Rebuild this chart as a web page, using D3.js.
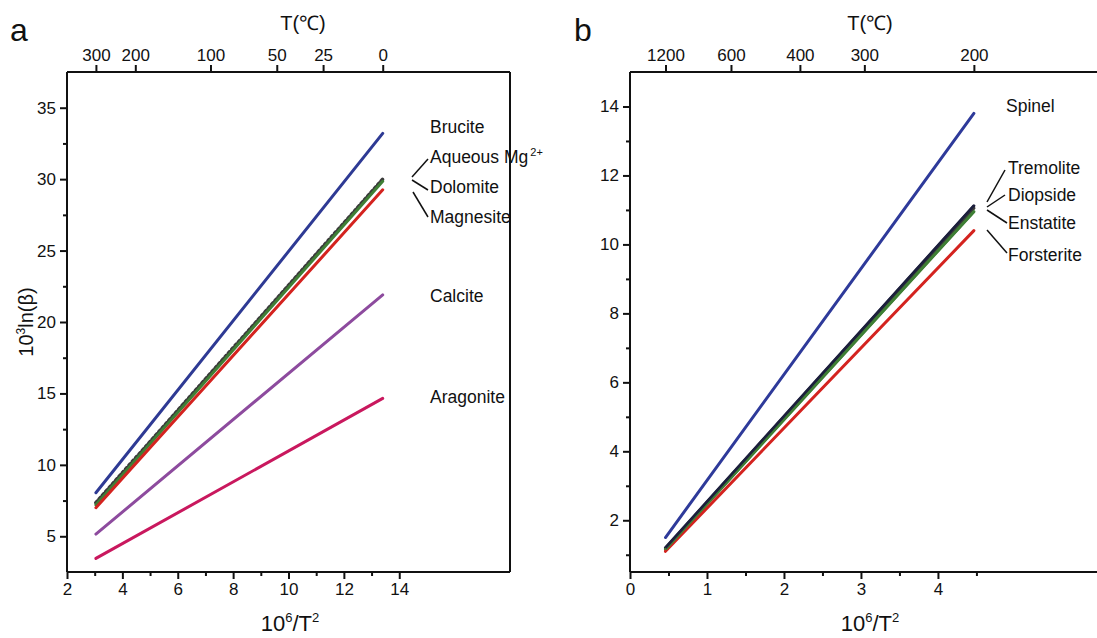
<!DOCTYPE html>
<html><head><meta charset="utf-8">
<script src="https://cdn.jsdelivr.net/npm/d3@7"></script>
<style>body{margin:0;background:#fff;} svg{display:block;font-family:"Liberation Sans",Arial,sans-serif;}</style>
</head><body>
<svg id="c" width="1097" height="638"></svg>
<script>
// ---------- Data ----------
// Panel a: x = 10^6/T^2 (T in K), endpoints at 300 °C and 0 °C
const aTempsC = [300, 200, 100, 50, 25, 0];
const aXTicks = [2, 4, 6, 8, 10, 12, 14];
const aYTicks = [5, 10, 15, 20, 25, 30, 35];
const aSeries = ["Brucite", "Aqueous Mg2+", "Dolomite", "Magnesite", "Calcite", "Aragonite"];
const aStartY = [8.05, 7.35, 7.2, 7.0, 5.15, 3.45];
const aEndY   = [33.2, 30.0, 29.85, 29.25, 21.9, 14.65];
const aColors = ["#2e3a94", "#3a3a3a", "#3f7f35", "#d4231f", "#8d4b9e", "#c9185e"];

// Panel b: endpoints at 1200 °C and 200 °C
const bTempsC = [1200, 600, 400, 300, 200];
const bXTicks = [0, 1, 2, 3, 4];
const bYTicks = [2, 4, 6, 8, 10, 12, 14];
const bSeries = ["Spinel", "Tremolite", "Diopside", "Enstatite", "Forsterite"];
const bStartY = [1.5, 1.2, 1.17, 1.15, 1.1];
const bEndY   = [13.8, 11.12, 11.05, 10.95, 10.4];
const bColors = ["#2e3a9a", "#1c1f3c", "#3a3a3a", "#3f7f35", "#d4231f"];

const toX = c => 1e6 / Math.pow(c + 273.15, 2);

const svg = d3.select("#c");

function panel(o) {
  const g = svg.append("g");
  const x = d3.scaleLinear().domain(o.xd).range([o.left, o.right]);
  const y = d3.scaleLinear().domain(o.yd).range([o.bottom, o.top]);

  const x0 = toX(o.temps[0]), x1 = toX(o.temps[o.temps.length - 1]);
  o.series.forEach((s, i) => {
    const pts = [[x0, o.sy[i]], [x1, o.ey[i]]];
    const ln = g.append("path")
      .attr("d", d3.line().x(d => x(d[0])).y(d => y(d[1]))(pts))
      .attr("fill", "none").attr("stroke", o.colors[i])
      .attr("stroke-width", 3).attr("stroke-linecap", "round");
    if (o.dotted && o.dotted.includes(s)) {
      ln.attr("stroke-dasharray", "2,3").attr("stroke-width", 3.6);
    }
  });
  if (o.redraw) {
    o.redraw.forEach(s => {
      const i = o.series.indexOf(s);
      g.append("path")
        .attr("d", d3.line().x(d => x(d[0])).y(d => y(d[1]))([[x0, o.sy[i]], [x1, o.ey[i]]]))
        .attr("fill", "none").attr("stroke", o.colors[i]).attr("stroke-width", 2.4);
    });
  }

  const fr = g.append("g").attr("stroke", "#111").attr("stroke-width", 2).attr("fill", "none");
  fr.append("line").attr("x1", o.left).attr("x2", o.frameRight).attr("y1", o.top).attr("y2", o.top);
  fr.append("line").attr("x1", o.left).attr("x2", o.frameRight).attr("y1", o.bottom).attr("y2", o.bottom);
  fr.append("line").attr("x1", o.left).attr("x2", o.left).attr("y1", o.top).attr("y2", o.bottom);
  if (o.rightBorder) fr.append("line").attr("x1", o.right).attr("x2", o.right).attr("y1", o.top).attr("y2", o.bottom);

  const bx = g.append("g").attr("transform", `translate(0,${o.bottom})`)
    .call(d3.axisBottom(x).tickValues(o.xTicks).tickSize(7).tickPadding(4).tickFormat(d3.format("d")));
  bx.select(".domain").remove();
  g.append("g").attr("transform", `translate(0,${o.bottom})`)
    .call(d3.axisBottom(x).tickValues(o.xMinor).tickSize(4).tickFormat(""))
    .select(".domain").remove();

  const ly = g.append("g").attr("transform", `translate(${o.left},0)`)
    .call(d3.axisLeft(y).tickValues(o.yTicks).tickSize(7).tickPadding(4).tickFormat(d3.format("d")));
  ly.select(".domain").remove();
  g.append("g").attr("transform", `translate(${o.left},0)`)
    .call(d3.axisLeft(y).tickValues(o.yMinor).tickSize(4).tickFormat(""))
    .select(".domain").remove();

  const tx = g.append("g").attr("transform", `translate(0,${o.top})`)
    .call(d3.axisTop(x).tickValues(o.temps.map(toX)).tickSize(7).tickPadding(4)
      .tickFormat((d, i) => o.temps[i]));
  tx.select(".domain").remove();

  g.selectAll(".tick line").attr("stroke", "#111").attr("stroke-width", 2);
  g.selectAll(".tick text").attr("font-size", 17).attr("fill", "#111")
    .attr("font-family", "Liberation Sans, Arial, sans-serif");

  g.append("text").attr("x", o.ttlX).attr("y", 30).attr("text-anchor", "middle")
    .attr("font-size", 20).attr("fill", "#111").text("T(℃)");
  const xt = g.append("text").attr("x", o.xtX).attr("y", 631).attr("text-anchor", "middle")
    .attr("font-size", 22).attr("fill", "#111");
  xt.append("tspan").text("10");
  xt.append("tspan").attr("dy", -9).attr("font-size", 13).text("6");
  xt.append("tspan").attr("dy", 9).text("/T");
  xt.append("tspan").attr("dy", -9).attr("font-size", 13).text("2");
  g.append("text").attr("x", o.letterX).attr("y", 41).attr("font-size", 32).attr("fill", "#111").text(o.letter);

  if (o.yTitle) {
    const yt = g.append("text").attr("transform", `translate(${o.yTitleX},${(o.top + o.bottom) / 2}) rotate(-90)`)
      .attr("text-anchor", "middle").attr("font-size", 20).attr("fill", "#111");
    yt.append("tspan").text("10");
    yt.append("tspan").attr("dy", -8).attr("font-size", 12).text("3");
    yt.append("tspan").attr("dy", 8).text("ln(β)");
  }

  o.labels.forEach(l => {
    const t = g.append("text").attr("x", l.x).attr("y", l.y).attr("font-size", 17.5).attr("fill", "#111");
    if (l.sup) {
      t.append("tspan").text(l.text);
      t.append("tspan").attr("dy", -7).attr("dx", 2).attr("font-size", 11).text(l.sup);
    } else t.text(l.text);
    if (l.lead) {
      g.append("line").attr("x1", l.lead[0]).attr("y1", l.lead[1]).attr("x2", l.lead[2]).attr("y2", l.lead[3])
        .attr("stroke", "#111").attr("stroke-width", 1.5);
    }
  });
  return {x, y};
}

panel({
  left: 67, right: 510, frameRight: 510, rightBorder: true, top: 72, bottom: 572,
  xd: [2, 18], yd: [2.5, 37.5],
  xTicks: aXTicks, xMinor: [3, 5, 7, 9, 11, 13],
  yTicks: aYTicks, yMinor: [7.5, 12.5, 17.5, 22.5, 27.5, 32.5],
  temps: aTempsC, series: aSeries, sy: aStartY, ey: aEndY, colors: aColors,
  dotted: ["Aqueous Mg2+"], redraw: [],
  ttlX: 303, xtX: 290, letterX: 10, letter: "a",
  yTitle: true, yTitleX: 33,
  labels: [
    {text: "Brucite", x: 430, y: 133},
    {text: "Aqueous Mg", sup: "2+", x: 430, y: 163, lead: [412, 177, 428, 159]},
    {text: "Dolomite", x: 430, y: 193, lead: [412, 180, 428, 190]},
    {text: "Magnesite", x: 430, y: 223, lead: [413, 192, 428, 217]},
    {text: "Calcite", x: 430, y: 302},
    {text: "Aragonite", x: 430, y: 403}
  ]
});

panel({
  left: 630, right: 1115, frameRight: 1097, rightBorder: false, top: 72, bottom: 572,
  xd: [0, 6.3], yd: [0.5, 15],
  xTicks: bXTicks, xMinor: [0.5, 1.5, 2.5, 3.5, 4.5],
  yTicks: bYTicks, yMinor: [1, 3, 5, 7, 9, 11, 13],
  temps: bTempsC, series: bSeries, sy: bStartY, ey: bEndY, colors: bColors,
  dotted: [], redraw: ["Enstatite", "Tremolite"],
  ttlX: 870, xtX: 870, letterX: 574, letter: "b",
  yTitle: false,
  labels: [
    {text: "Spinel", x: 1006, y: 112},
    {text: "Tremolite", x: 1008, y: 174, lead: [987, 202, 1005, 170]},
    {text: "Diopside", x: 1008, y: 201, lead: [987, 207, 1005, 195]},
    {text: "Enstatite", x: 1008, y: 229, lead: [987, 210, 1007, 223]},
    {text: "Forsterite", x: 1008, y: 261, lead: [987, 230, 1007, 253]}
  ]
});
</script>
</body></html>
